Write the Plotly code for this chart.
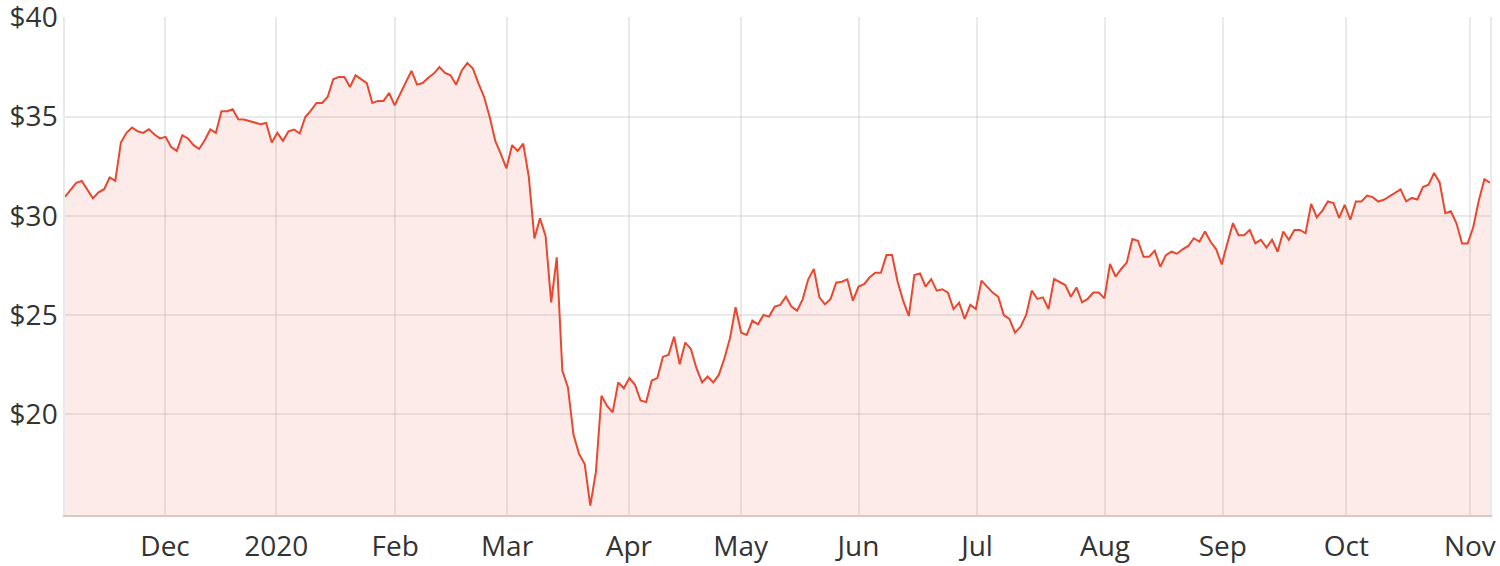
import plotly.graph_objects as go

# Daily closing prices (one value per trading day), Nov 2019 - Nov 2020
prices = [
    30.96, 31.29, 31.66, 31.76, 31.34, 30.88, 31.18, 31.34, 31.93, 31.76,
    33.69, 34.18, 34.45, 34.26, 34.18, 34.36, 34.10, 33.90, 33.98, 33.47,
    33.27, 34.06, 33.90, 33.56, 33.37, 33.81, 34.35, 34.18, 35.27, 35.27,
    35.37, 34.87, 34.85, 34.78, 34.72, 34.62, 34.68, 33.69, 34.18, 33.78,
    34.26, 34.35, 34.15, 34.98, 35.30, 35.69, 35.69, 35.99, 36.88, 37.00,
    37.00, 36.49, 37.08, 36.88, 36.69, 35.69, 35.79, 35.79, 36.19, 35.57,
    36.19, 36.74, 37.30, 36.61, 36.69, 36.96, 37.17, 37.50, 37.20, 37.08,
    36.61, 37.33, 37.70, 37.42, 36.66, 35.99, 34.98, 33.77, 33.11, 32.39,
    33.56, 33.27, 33.64, 31.96, 28.86, 29.87, 28.98, 25.64, 27.91, 22.20,
    21.35, 18.96, 17.99, 17.49, 15.39, 17.08, 20.93, 20.42, 20.09, 21.60,
    21.31, 21.82, 21.48, 20.69, 20.61, 21.70, 21.82, 22.90, 22.99, 23.91,
    22.52, 23.61, 23.29, 22.32, 21.60, 21.90, 21.60, 21.98, 22.82, 23.83,
    25.39, 24.11, 24.00, 24.72, 24.53, 25.00, 24.92, 25.42, 25.51, 25.92,
    25.42, 25.22, 25.79, 26.80, 27.32, 25.89, 25.54, 25.81, 26.63, 26.68,
    26.80, 25.72, 26.43, 26.55, 26.90, 27.13, 27.13, 28.02, 28.02, 26.68,
    25.71, 24.95, 27.02, 27.10, 26.43, 26.81, 26.23, 26.30, 26.13, 25.30,
    25.62, 24.80, 25.51, 25.30, 26.73, 26.43, 26.13, 25.92, 25.00, 24.80,
    24.11, 24.41, 25.00, 26.23, 25.81, 25.89, 25.30, 26.81, 26.68, 26.51,
    25.92, 26.39, 25.64, 25.81, 26.13, 26.13, 25.84, 27.57, 26.93, 27.32,
    27.64, 28.83, 28.74, 27.94, 27.94, 28.24, 27.43, 28.02, 28.19, 28.09,
    28.31, 28.48, 28.87, 28.70, 29.21, 28.69, 28.31, 27.55, 28.62, 29.63,
    29.02, 29.02, 29.29, 28.62, 28.79, 28.40, 28.79, 28.19, 29.21, 28.79,
    29.29, 29.29, 29.12, 30.60, 29.92, 30.26, 30.72, 30.64, 29.89, 30.55,
    29.80, 30.72, 30.72, 31.02, 30.94, 30.72, 30.81, 30.97, 31.16, 31.33,
    30.73, 30.90, 30.82, 31.45, 31.57, 32.16, 31.67, 30.13, 30.23, 29.62,
    28.60, 28.60, 29.42, 30.77, 31.84, 31.67,
]
trading_day = list(range(len(prices)))

# Month boundaries, expressed in trading-day index
month_starts = [17.9, 37.8, 59.1, 79.1, 100.9, 120.9, 142.0, 163.2, 186.1, 207.2, 229.3, 251.4]
month_labels = ["Dec", "2020", "Feb", "Mar", "Apr", "May", "Jun", "Jul", "Aug", "Sep", "Oct", "Nov"]

price_ticks = [20, 25, 30, 35, 40]
price_tick_labels = ["$" + str(v) for v in price_ticks]

LINE = "#E8482F"
FILL = "rgba(232,72,47,0.11)"
GRID = "rgba(200,200,200,0.38)"
FONT = "Open Sans"

fig = go.Figure()
fig.add_trace(go.Scatter(
    x=trading_day, y=prices, mode="lines",
    line=dict(color=LINE, width=2),
    fill="tozeroy", fillcolor=FILL,
    hoverinfo="skip", showlegend=False,
))

fig.update_layout(
    width=1500, height=566,
    margin=dict(l=65, r=10, t=17, b=51),
    paper_bgcolor="white", plot_bgcolor="white",
    font=dict(family=FONT, color="#333333"),
)
fig.update_xaxes(
    range=[0, len(prices) - 1],
    tickvals=month_starts, ticktext=month_labels,
    showgrid=True, gridcolor=GRID, gridwidth=1.5,
    showline=True, linecolor="rgba(215,200,198,1)", linewidth=2,
    ticks="", tickfont=dict(size=28, color="#333333"),
    ticklabelstandoff=5, automargin=False, ticklabeloverflow="allow",
    zeroline=False,
)
fig.update_yaxes(
    range=[14.92, 40.02],
    tickvals=price_ticks, ticktext=price_tick_labels,
    showgrid=True, gridcolor=GRID, gridwidth=1.5,
    showline=True, mirror=True, linecolor=GRID, linewidth=1.5,
    ticks="", tickfont=dict(size=28, color="#333333"),
    ticklabelstandoff=0, automargin=False, ticklabeloverflow="allow",
    zeroline=False,
)

fig.write_html("out.html", config={"displayModeBar": False},
               post_script="document.body.style.margin='0';")
